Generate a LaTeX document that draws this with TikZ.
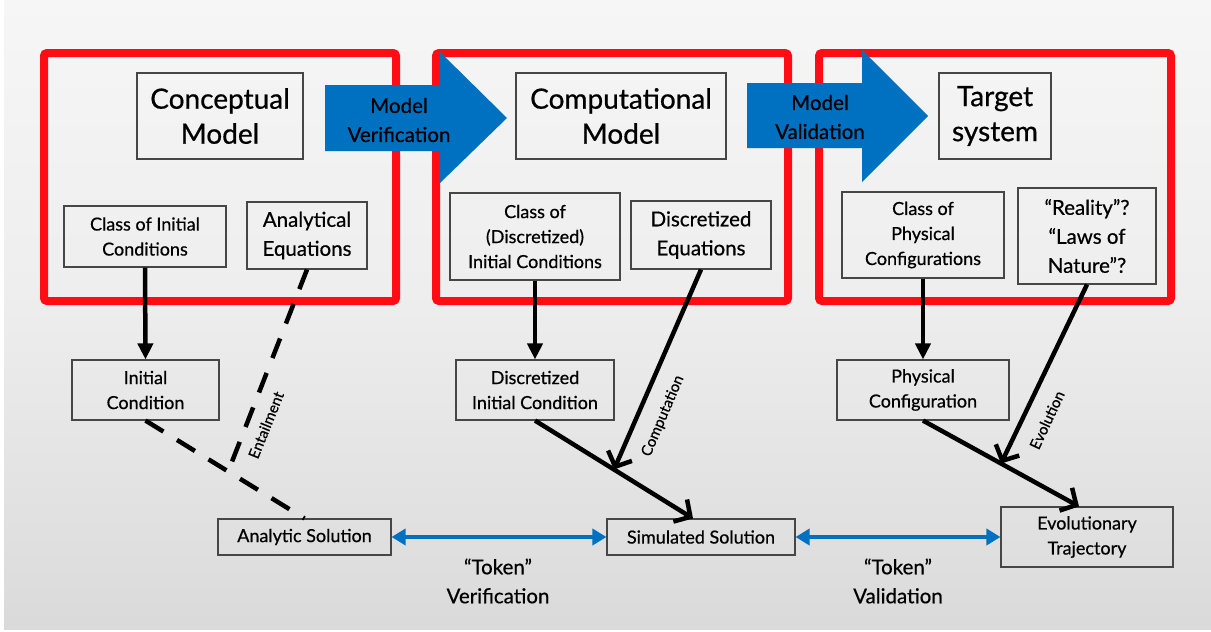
\documentclass[tikz,border=0pt]{standalone}
\usepackage{fontspec}
\setmainfont{Lato}[FakeBold=0.6]
\usetikzlibrary{arrows.meta,calc}

\definecolor{frame}{RGB}{255,12,20}
\definecolor{flow}{RGB}{0,112,192}
\definecolor{boxline}{RGB}{70,70,70}
\definecolor{bgA}{RGB}{194,194,194}
\definecolor{bgB}{RGB}{221,221,221}
\definecolor{bgC}{RGB}{238,238,238}
\definecolor{bgD}{RGB}{249,249,249}
\definecolor{bgE}{RGB}{251,251,251}
\pgfdeclareverticalshading{backdrop}{100bp}{color(0bp)=(bgA); color(29bp)=(bgB); color(52bp)=(bgC); color(84bp)=(bgD); color(100bp)=(bgE)}

\tikzset{
  box/.style={draw=boxline, line width=1.1pt, inner sep=0pt, align=center},
  title/.style={box, font=\fontsize{28}{35}\selectfont},
  mid/.style={box, font=\fontsize{20.5}{29}\selectfont},
  small/.style={box, font=\fontsize{18}{25}\selectfont},
  caption/.style={inner sep=0pt, align=center, font=\fontsize{20.5}{29}\selectfont},
  lbl/.style={inner sep=0pt, font=\fontsize{15}{18}\selectfont},
  redframe/.style={draw=frame, line width=8pt, rounded corners=3pt},
  bigarrow/.style={fill=flow},
  down/.style={line width=4.5pt, -{Triangle[width=15pt,length=16pt]}},
  reach/.style={line width=4.5pt, -{Straight Barb[width=26pt,length=12pt]}},
  entail/.style={line width=4.5pt, dash pattern=on 21pt off 16pt},
  token/.style={draw=flow, line width=4.5pt,
    {Triangle[width=16pt,length=14pt]}-{Triangle[width=16pt,length=14pt]}}
}

\begin{document}
\begin{tikzpicture}[x=1pt,y=-1pt]
\useasboundingbox (0,0) rectangle (1211,632);
\shade[shading=backdrop] (0,0) rectangle (1211,632);
\fill[white] (0,0) rectangle (3.5,632);
\fill[white] (0,630) rectangle (1211,632);

% three model frames
\draw[redframe] (44,53) rectangle (396,301);
\draw[redframe] (436,53) rectangle (788,301);
\draw[redframe] (819,53) rectangle (1171,301);

% block arrows between the frames
\fill[bigarrow] (325,85) -- (440,85) -- (440,52) -- (507,118) -- (440,183) -- (440,151) -- (325,151) -- cycle;
\fill[bigarrow] (747,83) -- (862,83) -- (862,50) -- (928,116) -- (862,182) -- (862,148) -- (747,148) -- cycle;
\node[caption] (mver) at (399,120) {Model\\Verification};
\node[caption] (mval) at (820,117) {Model\\Validation};

% headline boxes
\node[title, minimum width=166pt, minimum height=86pt] (cm) at (220,116) {Conceptual\\Model};
\node[title, minimum width=210pt, minimum height=86pt] (comp) at (621,116) {Computational\\Model};
\node[title, minimum width=112pt, minimum height=86pt] (ts) at (995,116) {Target\\system};

% contents of each frame
\node[small, minimum width=162pt, minimum height=61pt] (cic) at (145,236.5) {Class of Initial\\Conditions};
\node[mid, minimum width=120pt, minimum height=67pt] (ae) at (307,235.5) {Analytical\\Equations};
\node[small, minimum width=170pt, minimum height=87pt] (cdic) at (535,236.5) {Class of\\(Discretized)\\Initial Conditions};
\node[mid, minimum width=140pt, minimum height=68pt] (de) at (701,235) {Discretized\\Equations};
\node[small, minimum width=162pt, minimum height=86pt] (cpc) at (923,235) {Class of\\Physical\\Configurations};
\node[mid, minimum width=138pt, minimum height=96pt] (rl) at (1087,236) {“Reality”?\\“Laws of\\Nature”?};

% instances
\node[small, minimum width=147pt, minimum height=60pt] (ic) at (145.5,390) {Initial\\Condition};
\node[small, minimum width=158pt, minimum height=60pt] (dic) at (535,390) {Discretized\\Initial Condition};
\node[small, minimum width=172pt, minimum height=60pt] (pc) at (923,390) {Physical\\Configuration};

% outcomes
\node[small, minimum width=173pt, minimum height=36pt] (as) at (304.5,537) {Analytic Solution};
\node[small, minimum width=188pt, minimum height=36pt] (ss) at (701,537) {Simulated Solution};
\node[small, minimum width=172pt, minimum height=60pt] (et) at (1087,537) {Evolutionary\\Trajectory};

% class -> instance
\draw[down] (cic.south) -- (ic.north);
\draw[down] (cdic.south) -- (dic.north);
\draw[down] (cpc.south) -- (pc.north);

% analytic column
\draw[entail] (ic.south) -- (as.north);
\coordinate (entfoot) at ($(ic.south)!0.52!(as.north)$);
\draw[entail] (ae.south) -- (entfoot);
\node[lbl, rotate=68] (entl) at (266,425) {Entailment};

% computational column
\coordinate (simtop) at ($(ss.north)+(-8,0)$);
\draw[reach] (dic.south) -- (simtop);
\coordinate (compfoot) at ($(dic.south)!0.5!(simtop)$);
\draw[reach] (de.south) -- (compfoot);
\node[lbl, rotate=67] (compl) at (663,416) {Computation};

% physical column
\coordinate (trajtop) at ($(et.north)+(-8,0)$);
\draw[reach] (pc.south) -- (trajtop);
\coordinate (evofoot) at ($(pc.south)!0.5!(trajtop)$);
\draw[reach] (rl.south) -- (evofoot);
\node[lbl, rotate=65] (evol) at (1047,420) {Evolution};

% token comparisons
\draw[token] (as.east) -- (ss.west);
\draw[token] (ss.east) -- (et.west);
\node[caption] (tver) at (498,581) {“Token”\\Verification};
\node[caption] (tval) at (898,581) {“Token”\\Validation};
\end{tikzpicture}
\end{document}
